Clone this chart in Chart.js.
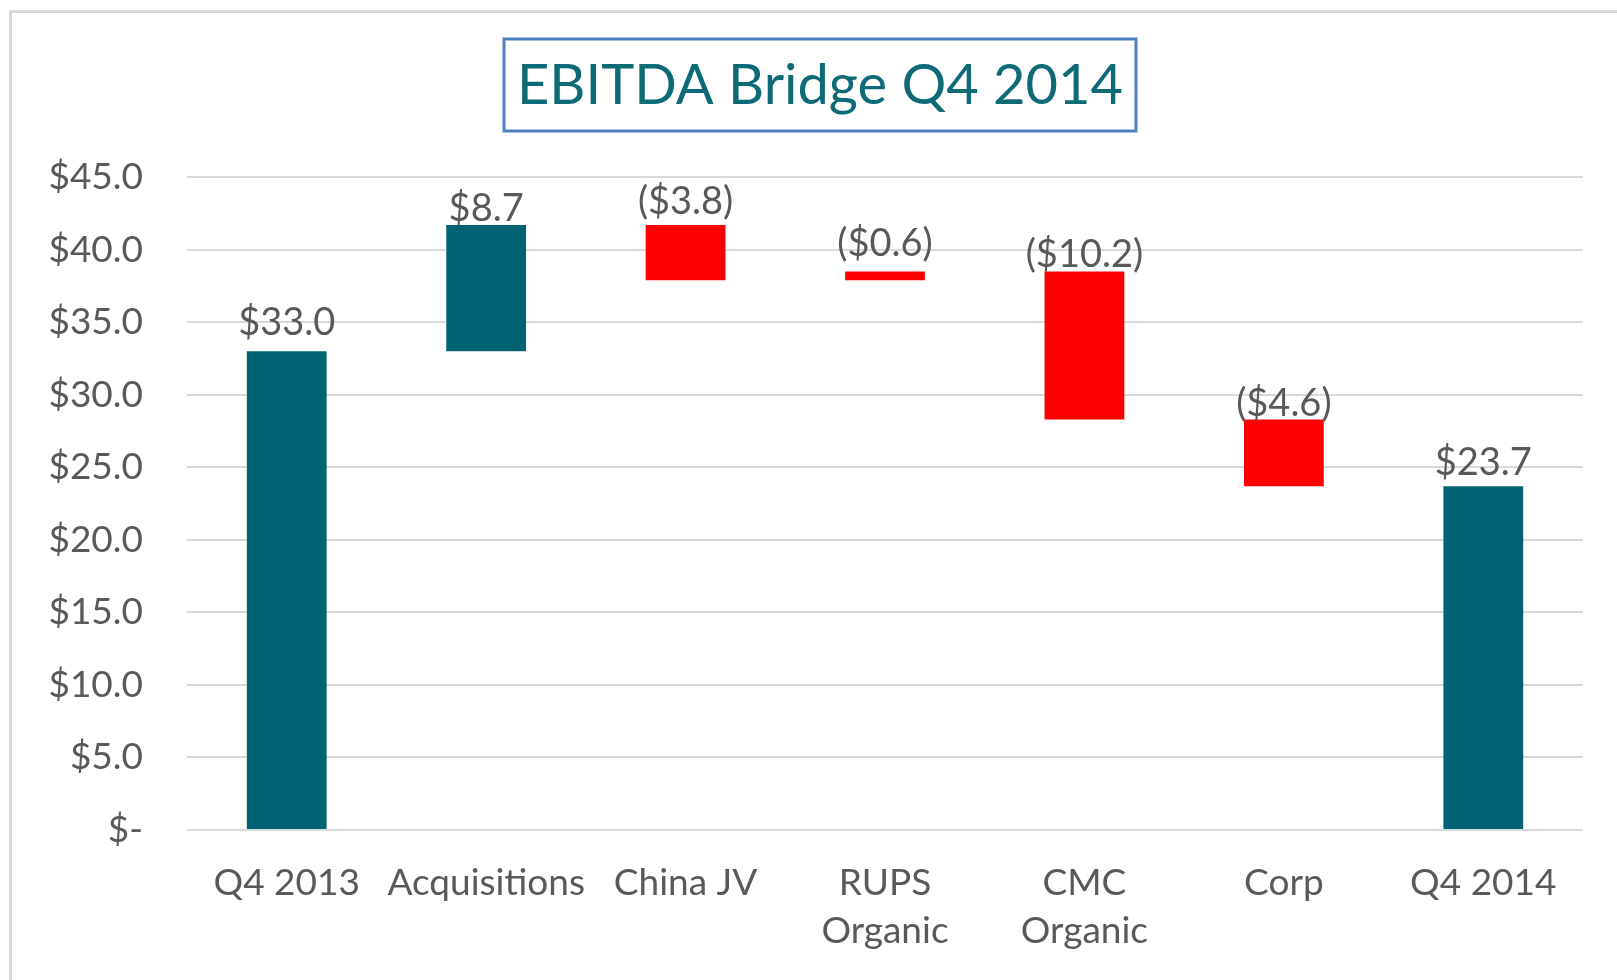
<!DOCTYPE html>
<html>
<head>
<meta charset="utf-8">
<script src="https://cdn.jsdelivr.net/npm/chart.js@4.4.1/dist/chart.umd.min.js"></script>
<style>
  html, body { margin: 0; padding: 0; background: #fff; overflow: hidden; }
  #frame {
    position: absolute; left: 9px; top: 10px;
    border-left: 3px solid #d9d9d9; border-top: 3px solid #d9d9d9;
    width: 1640px; height: 1000px;
  }
  canvas { display: block; }
</style>
</head>
<body>
<div id="frame"><canvas id="bridge" width="1616" height="990"></canvas></div>
<script>
// bridge steps, left to right
const categories = [['Q4 2013'], ['Acquisitions'], ['China JV'], ['RUPS', 'Organic'], ['CMC', 'Organic'], ['Corp'], ['Q4 2014']];
const changes = [33.0, 8.7, -3.8, -0.6, -10.2, -4.6, 23.7];
// floating bar ends as drawn in the original sheet
const barLow = [0, 33.0, 37.9, 37.9, 28.3, 23.7, 0];
const barHigh = [33.0, 41.7, 41.7, 38.5, 38.5, 28.3, 23.7];
const yTicks = [0, 5, 10, 15, 20, 25, 30, 35, 40, 45];

const TEAL = '#006373';
const RED = '#ff0000';
const FONT = 'Lato, Calibri, sans-serif';
const TITLE_SIZE = 56;

function money(v) {
  if (v === 0) return '$-';
  if (v < 0) return '($' + Math.abs(v).toFixed(1) + ')';
  return '$' + v.toFixed(1);
}

// labels over each bar
const barLabels = {
  id: 'barLabels',
  afterDatasetsDraw(chart, args, opts) {
    const ctx = chart.ctx;
    const meta = chart.getDatasetMeta(0);
    ctx.save();
    ctx.font = '38px ' + FONT;
    ctx.fillStyle = '#595959';
    ctx.textAlign = 'center';
    ctx.textBaseline = 'middle';
    meta.data.forEach((bar, i) => {
      const top = Math.min(bar.y, bar.base);
      ctx.fillText(money(changes[i]), bar.x, top - opts.lift[i]);
    });
    ctx.restore();
  }
};

// title centred on the whole canvas, with a box round it
const titleBox = {
  id: 'titleBox',
  afterLayout(chart) {
    chart.titleBlock.left = 0;
    chart.titleBlock.right = chart.width;
  },
  afterDraw(chart) {
    const ctx = chart.ctx;
    ctx.save();
    ctx.font = TITLE_SIZE + 'px ' + FONT;
    const w = ctx.measureText('EBITDA Bridge Q4 2014').width + 26;
    const cx = chart.width / 2;
    ctx.strokeStyle = '#4f7fbf';
    ctx.lineWidth = 3;
    ctx.strokeRect(cx - w / 2, 26, w, 92);
    ctx.restore();
  }
};

const ctx = document.getElementById('bridge').getContext('2d');
new Chart(ctx, {
  type: 'bar',
  data: {
    labels: categories,
    datasets: [{
      data: barLow.map((lo, i) => [lo, barHigh[i]]),
      backgroundColor: changes.map(v => v < 0 ? RED : TEAL),
      borderWidth: 0,
      categoryPercentage: 1,
      barPercentage: 0.4
    }]
  },
  options: {
    responsive: false,
    animation: false,
    layout: { padding: { left: 0, right: 45, top: 0, bottom: 0 } },
    plugins: {
      legend: { display: false },
      tooltip: { enabled: false },
      title: {
        display: true,
        text: 'EBITDA Bridge Q4 2014',
        color: '#0f6a78',
        align: 'center',
        font: { family: FONT, size: TITLE_SIZE, weight: 'normal', lineHeight: 1.2 },
        padding: { top: 39, bottom: 58 }
      },
      barLabels: { lift: [29, 16, 23, 28, 17, 16, 23] }
    },
    scales: {
      x: {
        grid: { display: false },
        border: { display: false },
        ticks: {
          color: '#595959',
          font: { family: FONT, size: 37, lineHeight: 1.3 },
          padding: 21,
          maxRotation: 0,
          autoSkip: false
        },
        afterFit(scale) { scale.height = 173; }
      },
      y: {
        min: 0,
        max: 45,
        afterBuildTicks(scale) { scale.ticks = yTicks.map(v => ({ value: v })); },
        grid: { color: '#d9d9d9', lineWidth: 2, drawTicks: false },
        border: { display: false },
        ticks: {
          color: '#595959',
          font: { family: FONT, size: 37 },
          padding: 44,
          callback: v => money(v)
        },
        afterFit(scale) { scale.width = 175; }
      }
    }
  },
  plugins: [barLabels, titleBox]
});
</script>
</body>
</html>
